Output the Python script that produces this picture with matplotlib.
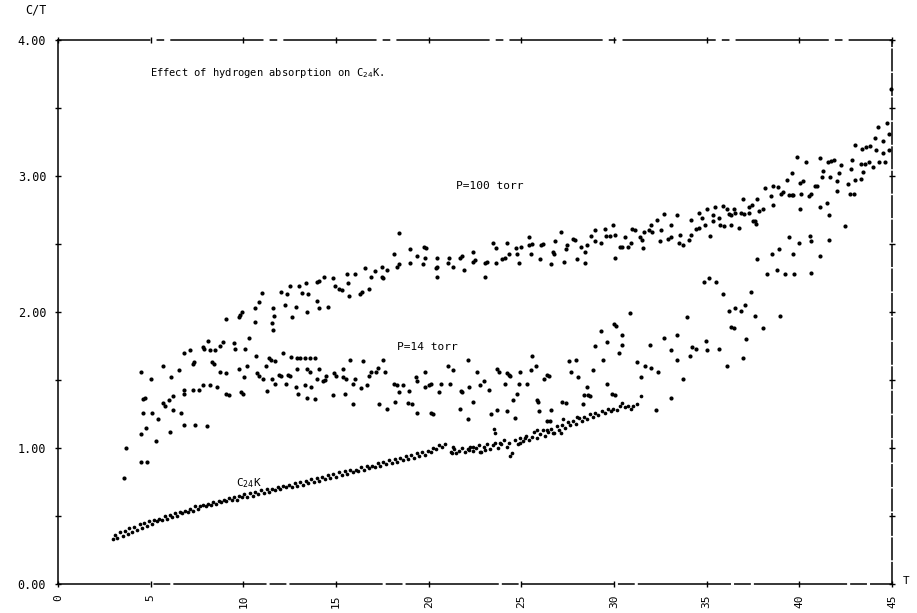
import matplotlib.pyplot as plt
import numpy as np

# P=100 torr
p100_x = [4.50,5.69,6.51,6.77,7.12,7.29,7.35,7.83,7.90,8.09,8.20,8.45,8.74,8.89,9.50,9.57,10.07,10.29,
          9.07,9.75,9.82,9.90,10.65,10.83,11.01,10.65,11.62,11.55,11.60,11.66,12.02,12.23,12.37,12.52,12.63,
          12.84,13.02,13.17,13.38,13.49,13.45,13.96,14.00,14.10,14.07,14.35,14.57,14.82,14.97,15.15,15.30,
          15.61,15.65,15.72,16.01,16.30,16.42,16.55,16.77,16.91,17.12,17.48,17.50,17.56,17.74,18.13,18.30,
          18.42,18.38,19.00,19.00,19.36,19.75,19.85,19.82,19.68,20.47,20.47,20.40,20.47,21.12,21.05,21.30,
          21.80,21.70,21.88,22.41,22.38,22.48,23.02,23.05,23.15,23.49,23.64,23.64,23.95,24.10,24.25,24.36,
          24.72,24.75,24.86,24.97,25.43,25.40,25.55,25.54,26.01,26.08,26.18,26.62,26.71,26.76,26.80,27.16,
          27.31,27.45,27.42,27.80,27.92,27.99,28.20,28.46,28.46,28.53,28.75,28.96,29.00,
          29.29,29.54,29.57,29.79,29.93,30.04,30.08,30.33,30.43,30.62,30.76,30.94,30.95,31.12,31.40,31.50,
          31.55,31.62,31.90,32.05,32.02,32.30,32.49,32.56,32.70,32.90,33.05,33.10,33.42,33.53,33.75,33.57,
          34.07,34.14,34.18,34.45,34.60,34.61,34.75,34.93,35.04,35.19,35.33,35.33,35.47,35.69,35.73,35.90,
          35.94,36.09,36.20,36.30,36.30,36.45,36.52,36.73,36.88,37.02,36.95,37.28,37.31,37.45,37.50,37.63,
          37.70,37.67,37.85,38.03,38.17,38.46,38.57,38.57,38.85,39.00,39.10,39.33,39.47,39.61,39.60,39.68,
          39.90,40.05,40.18,40.08,40.37,40.50,40.62,40.85,40.95,41.12,41.20,41.27,41.55,41.70,41.87,41.66,
          42.06,42.13,42.06,42.24,42.63,42.75,42.95,42.78,42.85,43.00,43.00,43.35,43.52,43.40,43.60,43.43,
          43.78,43.82,44.00,44.11,44.15,44.26,44.32,44.50,44.50,44.61,44.75,44.83,44.86,44.95]
p100_y = [1.56,1.60,1.57,1.70,1.72,1.62,1.63,1.74,1.73,1.79,1.72,1.72,1.75,1.78,1.77,1.73,1.73,1.81,
          1.95,1.96,1.98,2.00,2.03,2.07,2.14,1.93,1.87,1.92,2.03,1.97,2.15,2.05,2.13,2.19,1.96,
          2.04,2.19,2.14,2.21,2.13,2.00,2.08,2.22,2.23,2.03,2.26,2.04,2.25,2.19,2.17,2.16,
          2.28,2.21,2.12,2.28,2.13,2.15,2.32,2.17,2.26,2.30,2.33,2.26,2.25,2.31,2.43,2.33,
          2.35,2.58,2.46,2.36,2.41,2.48,2.47,2.40,2.35,2.40,2.33,2.32,2.26,2.40,2.36,2.33,
          2.41,2.40,2.31,2.44,2.37,2.38,2.26,2.36,2.37,2.51,2.47,2.36,2.39,2.40,2.51,2.43,
          2.47,2.43,2.36,2.48,2.55,2.49,2.50,2.43,2.39,2.49,2.50,2.35,2.44,2.43,2.52,2.59,
          2.37,2.49,2.46,2.54,2.53,2.39,2.48,2.44,2.36,2.49,2.56,2.60,2.52,
          2.51,2.61,2.56,2.56,2.64,2.57,2.40,2.48,2.48,2.55,2.48,2.51,2.61,2.60,2.55,2.53,
          2.47,2.59,2.60,2.59,2.64,2.68,2.52,2.60,2.72,2.54,2.55,2.64,2.71,2.51,2.49,2.57,
          2.53,2.57,2.68,2.61,2.62,2.73,2.69,2.64,2.76,2.56,2.71,2.67,2.77,2.69,2.64,2.78,
          2.63,2.76,2.72,2.71,2.64,2.76,2.73,2.62,2.73,2.72,2.83,2.73,2.77,2.79,2.67,2.67,
          2.83,2.65,2.74,2.76,2.91,2.85,2.93,2.79,2.92,2.87,2.88,2.97,2.86,3.02,2.86,2.86,
          3.14,2.95,2.96,2.87,3.10,2.85,2.87,2.93,2.93,3.13,2.99,3.04,3.10,3.11,3.12,2.99,
          2.96,3.02,2.89,3.08,2.94,2.87,2.87,3.05,3.12,3.23,2.97,3.09,3.09,3.20,3.21,3.03,
          3.10,3.22,3.07,3.28,3.19,3.36,3.10,3.26,3.17,3.10,3.39,3.19,3.31,3.64]

# P=14 torr
p14_x = [3.56,3.67,4.46,4.78,4.46,4.75,4.57,5.07,4.60,4.68,5.00,5.29,5.40,5.68,5.75,6.00,6.19,6.08,6.04,
         6.19,6.66,6.80,6.80,6.82,7.29,7.41,7.59,7.84,8.06,8.20,8.30,8.42,8.60,8.74,9.05,9.20,9.07,9.79,
         9.88,9.98,10.04,10.18,10.69,10.72,10.84,11.08,11.22,11.26,11.40,11.48,11.69,11.73,11.55,11.95,
         12.02,12.12,12.30,12.40,12.50,12.56,12.92,12.95,12.88,12.84,
         13.06,13.33,13.58,13.87,13.45,13.58,14.07,13.31,13.67,13.99,13.45,13.89,14.28,14.40,14.46,14.87,
         15.00,14.82,15.36,15.38,15.52,15.50,15.76,15.94,15.90,16.04,16.33,16.44,16.66,16.80,16.88,17.18,
         17.28,17.31,17.52,17.66,17.77,18.13,18.30,18.20,18.38,18.60,18.90,19.10,18.93,19.33,19.36,19.36,
         19.82,19.82,20.00,20.10,20.10,20.25,20.58,20.69,21.05,21.30,21.16,21.72,21.80,21.69,22.13,22.16,
         22.13,22.38,22.63,22.77,22.99,23.24,23.38,23.70,23.80,23.71,24.20,24.35,24.40,24.10,24.25,24.68,
         24.75,24.57,24.86,24.93,25.33,25.51,25.58,25.80,25.85,25.92,25.94,26.23,26.36,26.52,26.36,26.50,
         26.59,27.22,27.40,27.56,27.67,27.95,28.06,28.35,28.40,28.58,28.70,28.57,28.89,28.96,29.29,29.61,
         29.64,29.98,30.12,29.43,29.90,30.05,30.26,
         30.44,30.44,30.87,31.26,31.44,31.66,31.95,31.98,32.27,32.38,32.70,33.06,33.06,33.42,33.42,33.71,
         33.96,34.11,34.22,34.40,34.83,34.97,35.04,35.15,35.51,35.69,35.90,36.12,36.19,36.33,36.48,36.52,
         36.88,36.98,37.09,37.13,37.42,37.63,37.70,38.06,38.24,38.53,38.82,38.93,38.96,39.25,39.47,39.65,
         39.72,40.01,40.04,40.58,40.62,40.62,41.12,41.12,41.48,41.62,41.62,42.49,43.35]
p14_y = [0.78,1.00,0.90,0.90,1.10,1.15,1.26,1.26,1.36,1.37,1.51,1.05,1.21,1.33,1.31,1.35,1.38,1.52,1.12,
         1.28,1.26,1.17,1.43,1.40,1.43,1.17,1.43,1.46,1.16,1.46,1.63,1.62,1.45,1.56,1.40,1.39,1.55,1.58,
         1.41,1.40,1.52,1.60,1.68,1.55,1.53,1.51,1.60,1.42,1.66,1.65,1.64,1.47,1.51,1.54,
         1.53,1.70,1.47,1.54,1.53,1.67,1.66,1.40,1.58,1.45,
         1.66,1.66,1.66,1.66,1.58,1.56,1.58,1.46,1.45,1.51,1.37,1.36,1.49,1.50,1.53,1.55,
         1.53,1.39,1.58,1.52,1.51,1.40,1.65,1.47,1.32,1.51,1.44,1.64,1.46,1.53,1.56,1.56,
         1.59,1.32,1.65,1.56,1.29,1.47,1.46,1.34,1.41,1.46,1.33,1.32,1.42,1.52,1.49,1.26,
         1.56,1.45,1.46,1.47,1.26,1.25,1.41,1.47,1.60,1.57,1.47,1.42,1.41,1.29,1.65,1.45,
         1.21,1.34,1.56,1.46,1.49,1.43,1.25,1.58,1.56,1.28,1.55,1.54,1.53,1.47,1.27,1.22,
         1.40,1.35,1.47,1.56,1.47,1.57,1.68,1.60,1.35,1.34,1.27,1.51,1.20,1.20,1.54,1.53,
         1.28,1.34,1.33,1.64,1.56,1.65,1.52,1.32,1.39,1.39,1.38,1.45,1.57,1.75,1.86,1.47,
         1.78,1.91,1.90,1.65,1.40,1.39,1.70,
         1.83,1.76,1.99,1.63,1.52,1.60,1.76,1.59,1.28,1.56,1.81,1.72,1.37,1.83,1.65,1.51,
         1.96,1.68,1.74,1.73,2.22,1.79,1.72,2.25,2.22,1.73,2.13,1.60,2.01,1.89,1.88,2.03,
         2.01,1.66,2.05,1.80,2.15,1.97,2.39,1.88,2.28,2.43,2.31,2.46,1.97,2.28,2.55,2.43,
         2.28,2.51,2.76,2.56,2.52,2.29,2.77,2.41,2.80,2.71,2.53,2.63,2.98]

# C24K
c24k_x = [2.95,3.10,3.20,3.35,3.48,3.62,3.75,3.85,3.98,4.12,4.25,4.40,4.52,4.66,4.80,4.92,5.05,5.20,5.34,
          5.46,5.60,5.75,5.88,6.02,6.15,6.30,6.44,6.58,6.70,6.85,7.00,7.12,7.26,7.40,7.55,7.68,7.82,7.96,
          8.10,8.25,8.38,8.52,8.66,8.80,8.94,9.08,9.22,9.36,9.50,9.64,9.78,9.92,10.06,10.20,10.35,10.50,
          10.64,10.80,10.95,11.10,11.26,11.40,11.55,11.70,11.86,12.00,12.16,12.30,12.46,12.60,12.76,12.90,
          13.06,13.20,13.36,13.50,13.66,13.80,13.96,14.10,14.26,14.40,14.56,14.70,14.86,15.00,15.16,15.30,
          15.46,15.60,15.76,15.90,16.06,16.20,16.36,16.50,16.66,16.80,16.96,17.10,17.26,17.40,17.56,17.70,
          17.86,18.00,18.16,18.30,18.46,18.60,18.76,18.90,19.06,19.20,19.36,19.50,19.66,19.80,19.96,20.10,
          20.26,20.40,20.56,20.70,20.86,21.20,21.35,21.50,21.65,21.80,21.95,22.10,22.25,22.40,22.55,22.70,
          22.85,23.00,23.15,23.30,23.45,23.60,23.75,23.90,24.05,24.20,24.35,24.50,24.65,24.80,24.95,25.10,
          25.25,25.40,25.55,25.70,25.85,26.00,26.15,26.30,26.45,26.60,26.75,26.90,27.05,27.20,27.35,27.50,
          27.65,27.80,27.95,28.10,28.25,28.40,28.55,28.70,28.85,29.00,29.15,29.36,29.52,29.68,29.84,29.97,
          30.18,30.30,30.44,30.60,30.75,30.90,31.05,31.26,31.44,
          23.53,23.60,23.85,24.39,24.93,25.22,25.83,26.37,26.73,27.16,27.27,27.99,21.26,21.33,22.16,22.41,
          22.77,23.06]
c24k_y = [0.33,0.36,0.34,0.38,0.35,0.39,0.37,0.41,0.38,0.42,0.40,0.44,0.41,0.45,0.43,0.46,0.44,0.47,0.46,
          0.48,0.47,0.50,0.48,0.51,0.49,0.52,0.50,0.53,0.52,0.54,0.53,0.55,0.54,0.57,0.55,0.57,0.58,0.57,
          0.59,0.58,0.60,0.59,0.61,0.60,0.62,0.61,0.63,0.62,0.64,0.62,0.65,0.64,0.66,0.64,0.67,0.65,
          0.68,0.66,0.69,0.67,0.70,0.68,0.70,0.69,0.71,0.70,0.72,0.71,0.73,0.71,0.74,0.72,
          0.75,0.73,0.76,0.74,0.77,0.75,0.78,0.76,0.79,0.77,0.80,0.78,0.81,0.79,0.82,0.80,
          0.83,0.81,0.84,0.82,0.84,0.83,0.86,0.84,0.87,0.85,0.87,0.86,0.89,0.87,0.90,0.88,
          0.91,0.89,0.92,0.90,0.93,0.91,0.94,0.92,0.95,0.93,0.96,0.94,0.97,0.95,0.98,0.97,
          1.00,0.99,1.02,1.01,1.03,0.97,0.99,0.96,0.98,1.00,0.97,0.99,1.01,0.98,1.00,1.02,
          0.97,1.01,1.03,0.99,1.02,1.04,1.00,1.03,1.06,1.01,1.04,0.96,1.06,1.03,1.07,1.05,
          1.09,1.06,1.08,1.12,1.07,1.10,1.13,1.09,1.12,1.14,1.11,1.16,1.13,1.17,1.15,1.19,
          1.17,1.20,1.18,1.22,1.20,1.23,1.21,1.25,1.23,1.26,1.24,1.27,1.26,1.29,1.27,1.29,
          1.28,1.31,1.33,1.30,1.31,1.29,1.31,1.32,1.38,
          1.14,1.11,1.04,0.94,1.04,1.07,1.13,1.13,1.11,1.11,1.21,1.23,0.96,1.01,0.985,1.01,
          0.97,0.985]

x_ticks = [0, 5, 10, 15, 20, 25, 30, 35, 40, 45]
y_ticks = [0, 1, 2, 3, 4]
y_labels = ['0.00', '1.00', '2.00', '3.00', '4.00']

mono = 'DejaVu Sans Mono'

fig = plt.figure(figsize=(9.17, 6.13), dpi=100)
ax = fig.add_axes([0.0633, 0.0473, 0.9094, 0.8874])

ax.scatter(p100_x, p100_y, s=9, c='black', linewidths=0, clip_on=False)
ax.scatter(p14_x, p14_y, s=9, c='black', linewidths=0, clip_on=False)
ax.scatter(c24k_x, c24k_y, s=7, c='black', linewidths=0, clip_on=False)

ax.set_xlim(0, 45)
ax.set_ylim(0, 4)
ax.set_xticks(x_ticks)
ax.set_xticklabels([str(t) for t in x_ticks], rotation=90, family=mono, fontsize=8)
ax.set_yticks(y_ticks)
ax.set_yticklabels(y_labels, family=mono, fontsize=8.5)
ax.set_yticks(np.arange(0.5, 4, 1.0), minor=True)
ax.tick_params(which='both', direction='inout', top=True, right=True, length=5, width=1, color='black')
ax.tick_params(axis='y', pad=6)
ax.tick_params(axis='x', pad=5)

for side in ['left', 'bottom', 'top', 'right']:
    ax.spines[side].set_linewidth(1.1)
ax.spines['top'].set_linestyle((0, (60, 5, 4, 5)))
ax.spines['right'].set_linestyle((0, (14, 2)))
ax.spines['bottom'].set_linestyle((0, (60, 3, 10, 3)))

ax.text(-1.2, 4.17, 'C/T', family=mono, fontsize=8.5, ha='center', va='bottom')
ax.text(45.6, 0.02, 'T', family=mono, fontsize=8, ha='left', va='center')

ax.text(4.97, 3.76, 'Effect of hydrogen absorption on C$_{24}$K.', family=mono, fontsize=7.5, va='center')
ax.text(21.5, 2.93, 'P=100 torr', family=mono, fontsize=8, va='center')
ax.text(18.3, 1.74, 'P=14 torr', family=mono, fontsize=8, va='center')
ax.text(9.6, 0.74, 'C$_{24}$K', family=mono, fontsize=8, va='center')

fig.savefig('out.png', dpi=100)
